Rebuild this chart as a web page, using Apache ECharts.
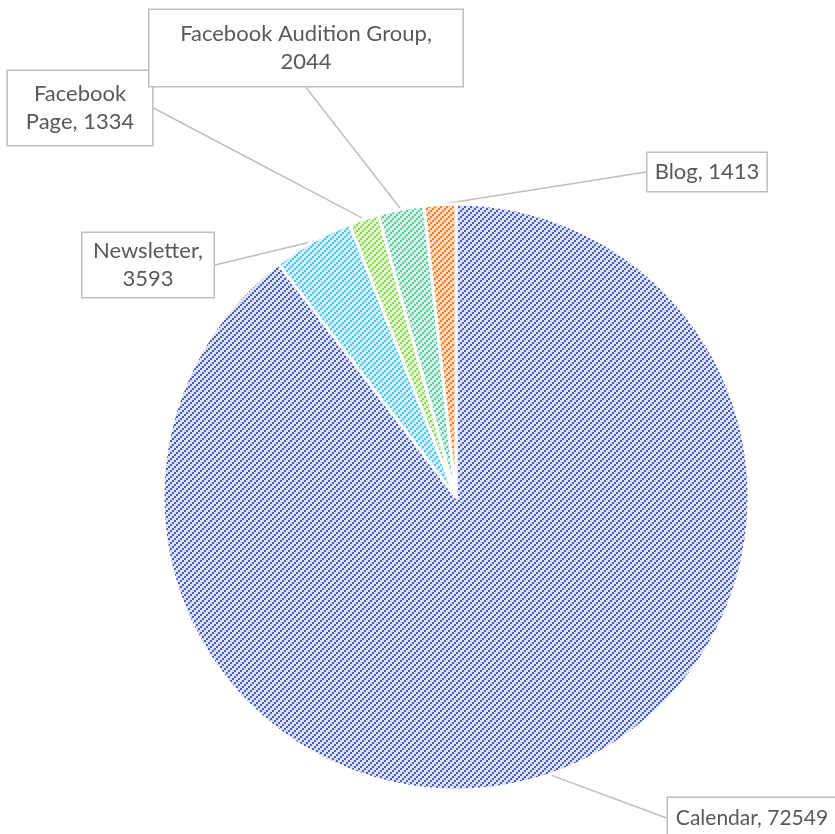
<!DOCTYPE html>
<html><head><meta charset="utf-8">
<script src="https://cdn.jsdelivr.net/npm/echarts@6/dist/echarts.min.js"></script>
<style>html,body{margin:0;padding:0;background:#fff}#c{width:835px;height:834px}</style>
</head><body><div id="c"></div>
<script>
const categories = ['Calendar', 'Newsletter', 'Facebook Page', 'Facebook Audition Group', 'Blog'];
const values = [72549, 3593, 1334, 2044, 1413];
const labelTexts = ['Calendar, 72549', 'Newsletter,\n3593', 'Facebook\nPage, 1334', 'Facebook Audition Group,\n2044', 'Blog, 1413'];
const lineColors = ['#4a5ec8', '#4fc4ef', '#8ed94e', '#5bcca2', '#ff7d22'];
const bgColors = ['#dbe0f5', '#d2f0fb', '#e3f6d3', '#d7f2e7', '#ffd9bd'];

function makePattern(fg, bg) {
  const c = document.createElement('canvas');
  c.width = 6; c.height = 6;
  const g = c.getContext('2d');
  g.fillStyle = bg; g.fillRect(0, 0, 6, 6);
  g.fillStyle = fg;
  g.fillRect(0, 4, 2, 2); g.fillRect(2, 2, 2, 2); g.fillRect(4, 0, 2, 2);
  return c;
}

// label box layout (centre points, content widths)
const boxCenters = [[752, 818], [148, 265], [80, 108], [306, 48], [707, 172]];
const boxStyles = [
  {width: 148, padding: [6, 10], fontSize: 21},
  {width: 111, padding: [4, 10]},
  {width: 106, padding: [9, 19]},
  {width: 255, padding: [10, 29]},
  {width: 101, padding: [5, 9]}
];

const data = categories.map((n, i) => ({
  name: n,
  value: values[i],
  itemStyle: {color: {image: makePattern(lineColors[i], bgColors[i]), repeat: 'repeat'}},
  label: Object.assign({formatter: labelTexts[i]}, boxStyles[i])
}));

const chart = echarts.init(document.getElementById('c'));
chart.setOption({
  animation: false,
  series: [{
    type: 'pie',
    center: [456, 497],
    radius: 293,
    startAngle: 90,
    clockwise: true,
    avoidLabelOverlap: false,
    data: data,
    itemStyle: {borderColor: '#fff', borderWidth: 3},
    label: {
      show: true,
      position: 'outside',
      fontFamily: 'Lato',
      fontSize: 22,
      lineHeight: 28,
      color: '#595959',
      backgroundColor: '#fff',
      borderColor: '#bfbfbf',
      borderWidth: 1.5,
      overflow: 'none',
      align: 'center'
    },
    labelLine: {show: true, length: 0, length2: 0, lineStyle: {color: '#bfbfbf', width: 1.5}},
    labelLayout: function (p) {
      const c = boxCenters[p.dataIndex];
      return {x: c[0], y: c[1], align: 'center', verticalAlign: 'middle'};
    }
  }]
});
</script></body></html>
